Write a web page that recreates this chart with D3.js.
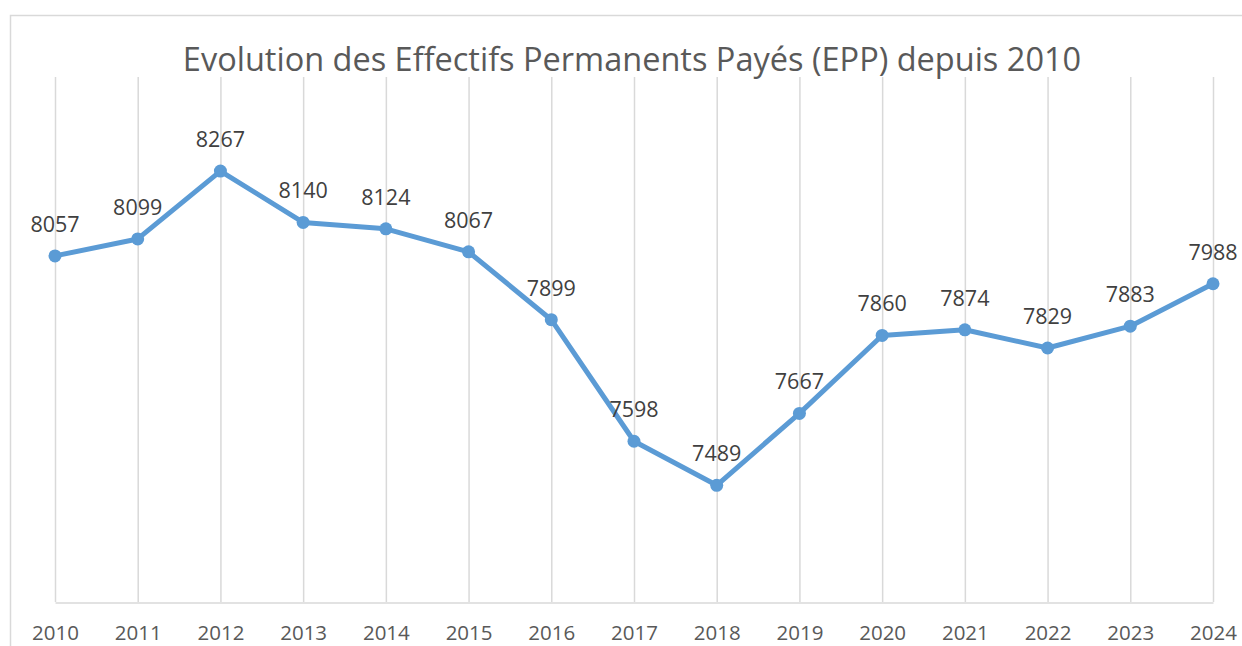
<!DOCTYPE html>
<html>
<head>
<meta charset="utf-8">
<script src="https://cdn.jsdelivr.net/npm/d3@7"></script>
<style>
  body { margin: 0; background: #fff; }
  svg { display: block; }
</style>
</head>
<body>
<svg id="chart"></svg>
<script>
// Données
const years = ["2010", "2011", "2012", "2013", "2014", "2015", "2016", "2017",
               "2018", "2019", "2020", "2021", "2022", "2023", "2024"];
const epp = [8057, 8099, 8267, 8140, 8124, 8067, 7899, 7598,
             7489, 7667, 7860, 7874, 7829, 7883, 7988];
const yDomain = [7200, 8500];
const title = "Evolution des Effectifs Permanents Payés (EPP) depuis 2010";

const width = 1242;
const height = 646;
const plot = { left: 55, right: 1213, top: 77, bottom: 602 };

const svg = d3.select("#chart")
    .attr("width", width)
    .attr("height", height)
    .style("font-family", "'Open Sans', sans-serif");

// cadre du graphique (coupé à droite et en bas)
svg.append("path")
    .attr("d", `M10.5,${height + 2}V15.5H${width + 2}`)
    .attr("fill", "none")
    .attr("stroke", "#d9d9d9")
    .attr("stroke-width", 1.5);

const x = d3.scalePoint()
    .domain(years)
    .range([plot.left, plot.right]);

const y = d3.scaleLinear()
    .domain(yDomain)
    .range([plot.bottom, plot.top]);

// titre
svg.append("text")
    .attr("x", 632)
    .attr("y", 71)
    .attr("text-anchor", "middle")
    .attr("fill", "#595959")
    .attr("font-size", 32.5)
    .text(title);

// lignes de grille verticales
svg.append("g")
    .selectAll("line")
    .data(years)
    .join("line")
    .attr("x1", d => x(d) + 0.5)
    .attr("x2", d => x(d) + 0.5)
    .attr("y1", y(yDomain[1]))
    .attr("y2", y(yDomain[0]))
    .attr("stroke", "#d9d9d9")
    .attr("stroke-width", 1.5);

// axe des abscisses
const xAxis = d3.axisBottom(x).tickSize(0).tickPadding(23);
const gx = svg.append("g")
    .attr("transform", `translate(0,${y(yDomain[0]) + 0.5})`)
    .call(xAxis);
gx.select(".domain").attr("stroke", "#d9d9d9").attr("stroke-width", 1.5);
gx.selectAll("text")
    .attr("fill", "#595959")
    .attr("font-size", 20.5)
    .attr("font-family", "'Open Sans', sans-serif");

const points = years.map((yr, i) => ({ year: yr, value: epp[i] }));

const line = d3.line()
    .x(d => x(d.year))
    .y(d => y(d.value));

svg.append("path")
    .datum(points)
    .attr("d", line)
    .attr("fill", "none")
    .attr("stroke", "#5b9bd5")
    .attr("stroke-width", 5)
    .attr("stroke-linejoin", "round");

svg.append("g")
    .selectAll("circle")
    .data(points)
    .join("circle")
    .attr("cx", d => x(d.year))
    .attr("cy", d => y(d.value))
    .attr("r", 6.5)
    .attr("fill", "#5b9bd5");

// étiquettes de données
svg.append("g")
    .selectAll("text")
    .data(points)
    .join("text")
    .attr("x", d => x(d.year))
    .attr("y", d => y(d.value) - 24)
    .attr("text-anchor", "middle")
    .attr("fill", "#404040")
    .attr("font-size", 21.5)
    .text(d => d.value);
</script>
</body>
</html>
